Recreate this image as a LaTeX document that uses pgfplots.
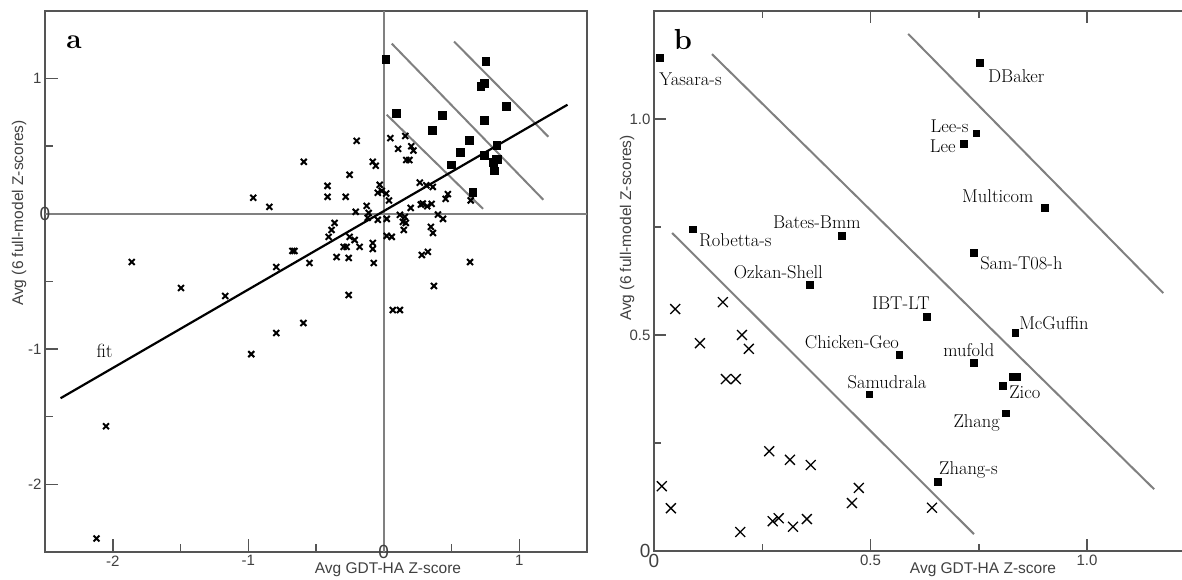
\documentclass[border=0pt]{standalone}
\usepackage{fontspec}
\setsansfont{Liberation Sans}
\usepackage{pgfplots}
\pgfplotsset{compat=1.18}
\definecolor{framegray}{HTML}{555555}
\definecolor{linegray}{HTML}{808080}
\definecolor{txtgray}{HTML}{404040}

\pgfplotstableread{
x y
0.014 1.141
0.09 0.745
0.434 0.729
0.36 0.616
0.753 1.13
0.744 0.967
0.716 0.942
0.903 0.794
0.739 0.69
0.63 0.542
0.566 0.454
0.834 0.505
0.739 0.435
0.827 0.403
0.838 0.403
0.806 0.382
0.813 0.319
0.656 0.16
0.497 0.363
}\squares

\pgfplotstableread{
x y
0.049 0.560
0.159 0.576
0.106 0.481
0.203 0.5
0.219 0.468
0.166 0.398
0.189 0.398
0.266 0.231
0.314 0.211
0.362 0.199
0.018 0.150
0.039 0.099
0.274 0.069
0.288 0.076
0.321 0.056
0.353 0.074
0.199 0.044
0.457 0.111
0.473 0.146
0.642 0.1
}\crossesb

\pgfplotstableread{
x y
-0.2 0.54
-0.59 0.385
-0.081 0.385
-0.059 0.356
-0.252 0.289
-0.415 0.207
-0.415 0.126
-0.281 0.126
-0.03 0.215
-0.015 0.17
-0.044 0.156
-0.207 0.015
-0.126 0.059
-0.111 0.007
-0.119 -0.03
0.4 -0.005
0.437 -0.037
0.119 -0.007
0.156 -0.022
0.141 -0.059
-0.044 -0.044
0.022 -0.037
-0.363 -0.067
-0.385 -0.119
-0.407 -0.17
-0.252 -0.17
-0.215 -0.193
-0.178 -0.244
-0.296 -0.244
-0.274 -0.244
-0.081 -0.215
-0.081 -0.259
0.022 -0.163
0.059 -0.17
0.148 -0.119
0.163 -0.067
0.348 -0.096
0.363 -0.141
-0.659 -0.274
-0.674 -0.274
-0.548 -0.363
-0.348 -0.319
-0.259 -0.326
-0.074 -0.363
0.281 -0.304
0.326 -0.281
0.637 -0.356
0.37 -0.533
-0.259 -0.6
-0.793 -0.393
-0.963 0.119
-0.844 0.052
-1.86 -0.356
-1.496 -0.548
-1.17 -0.607
-0.793 -0.881
-0.978 -1.037
-2.05 -1.57
-2.12 -2.4
-0.593 -0.807
0.067 -0.711
0.119 -0.711
}\crossesa

\newcommand{\bigzero}{{\fontsize{19}{20}\selectfont 0}}

\begin{document}
\begin{tikzpicture}
\useasboundingbox (0pt,0pt) rectangle (1182pt,580pt);
% ---------------- panel a ----------------
\begin{axis}[at={(45pt,28pt)}, anchor=south west, scale only axis,
 width=542pt, height=541pt,
 xmin=-2.5, xmax=1.5, ymin=-2.5, ymax=1.5,
 xtick={-2,-1,0,1}, xticklabels={-2,-1,,1}, minor xtick={-1.5,-0.5,0.5},
 ytick={-2,-1,0,1}, yticklabels={-2,-1,,1}, minor ytick={-1.5,-0.5,0.5},
 xtick pos=bottom, ytick pos=left, tick align=inside,
 major tick length=13pt, minor tick length=8pt,
 tick style={framegray, line width=1.5pt},
 axis line style={framegray, line width=1.8pt},
 tick label style={font=\sffamily\fontsize{15}{18}\selectfont, text=txtgray},
 clip=false]
\addplot[linegray, line width=1.8pt, forget plot] coordinates {(-2.5,0) (1.5,0)};
\addplot[linegray, line width=1.8pt, forget plot] coordinates {(0,-2.5) (0,1.5)};
\addplot[linegray, line width=2pt] coordinates {(0.022,0.733) (0.733,0.037)};
\addplot[linegray, line width=2pt] coordinates {(0.059,1.259) (1.178,0.104)};
\addplot[linegray, line width=2pt] coordinates {(0.519,1.274) (1.215,0.570)};
\addplot[black, line width=2.2pt] coordinates {(-2.385,-1.363) (1.356,0.807)};
\addplot[only marks, mark=x, mark size=4.2pt, mark options={line width=2pt, black}] table {\crossesa};
\addplot[only marks, mark=x, mark size=4.2pt, mark options={line width=2pt, black}] table {\crossesb};
\addplot[only marks, mark=square*, mark size=3.9pt, black] table {\squares};
\node[font=\fontsize{19}{22}\selectfont] at (axis cs:-2.06,-1.01) {fit};
\node[font=\sffamily, text=txtgray, inner sep=0pt] at (axis cs:-2.5,0) {\bigzero};
\node[font=\sffamily, text=txtgray, inner sep=0pt] at (axis cs:0,-2.5) {\bigzero};
\end{axis}
% ---------------- panel b ----------------
\begin{axis}[at={(654pt,29pt)}, anchor=south west, scale only axis,
 width=528.3pt, height=540pt,
 xmin=0, xmax=1.22, ymin=0, ymax=1.25,
 xtick={0,0.5,1}, xticklabels={\bigzero,0.5,1.0}, minor xtick={0.25,0.75},
 ytick={0,0.5,1}, yticklabels={\bigzero,0.5,1.0}, minor ytick={0.25,0.75},
 xtick pos=both, ytick pos=left, tick align=inside,
 major tick length=12pt, minor tick length=7pt,
 tick style={framegray, line width=1.5pt},
 axis line style={draw=none},
 tick label style={font=\sffamily\fontsize{15}{18}\selectfont, text=txtgray},
 clip=false]
\draw[framegray, line width=1.8pt] (axis cs:1.22,1.25) -- (axis cs:0,1.25) -- (axis cs:0,0) -- (axis cs:1.22,0);
\addplot[linegray, line width=2pt] coordinates {(0.042,0.736) (0.739,0.039)};
\addplot[linegray, line width=2pt] coordinates {(0.134,1.15) (1.155,0.143)};
\addplot[linegray, line width=2pt] coordinates {(0.587,1.197) (1.176,0.597)};
\addplot[only marks, mark=x, mark size=7pt, mark options={line width=1.3pt, black}] table {\crossesb};
\addplot[only marks, mark=square*, mark size=3.4pt, black] table {\squares};
\begin{scope}[every node/.style={font=\fontsize{18.5}{21}\selectfont, inner sep=0pt, text=black}]
\node[anchor=west] at (axis cs:0.012,1.093) {Yasara-s};
\node[anchor=west] at (axis cs:0.104,0.72) {Robetta-s};
\node at (axis cs:0.376,0.762) {Bates-Bmm};
\node at (axis cs:0.287,0.646) {Ozkan-Shell};
\node[anchor=west] at (axis cs:0.771,1.10) {DBaker};
\node[anchor=east] at (axis cs:0.727,0.984) {Lee-s};
\node[anchor=east] at (axis cs:0.697,0.9375) {Lee};
\node at (axis cs:0.794,0.822) {Multicom};
\node[anchor=west] at (axis cs:0.753,0.667) {Sam-T08-h};
\node at (axis cs:0.570,0.574) {IBT-LT};
\node at (axis cs:0.457,0.484) {Chicken-Geo};
\node at (axis cs:0.538,0.391) {Samudrala};
\node[anchor=west] at (axis cs:0.843,0.528) {McGuffin};
\node at (axis cs:0.727,0.465) {mufold};
\node[anchor=west] at (axis cs:0.82,0.368) {Zico};
\node[anchor=east] at (axis cs:0.799,0.296) {Zhang};
\node[anchor=west] at (axis cs:0.658,0.1875) {Zhang-s};
\end{scope}
\end{axis}
% ---------------- outer labels ----------------
\node[rotate=90, font=\sffamily\fontsize{15.5}{18}\selectfont, text=txtgray] at (19pt,367pt) {Avg (6 full-model Z-scores)};
\node[font=\sffamily\fontsize{15.5}{18}\selectfont, text=txtgray] at (388pt,10pt) {Avg GDT-HA Z-score};
\node[rotate=90, font=\sffamily\fontsize{15.5}{18}\selectfont, text=txtgray] at (627pt,352pt) {Avg (6 full-model Z-scores)};
\node[font=\sffamily\fontsize{15.5}{18}\selectfont, text=txtgray] at (983pt,10pt) {Avg GDT-HA Z-score};
\node[font=\bfseries\fontsize{28}{30}\selectfont] at (74pt,538pt) {a};
\node[font=\bfseries\fontsize{29}{30}\selectfont] at (683pt,540pt) {b};
\end{tikzpicture}
\end{document}
